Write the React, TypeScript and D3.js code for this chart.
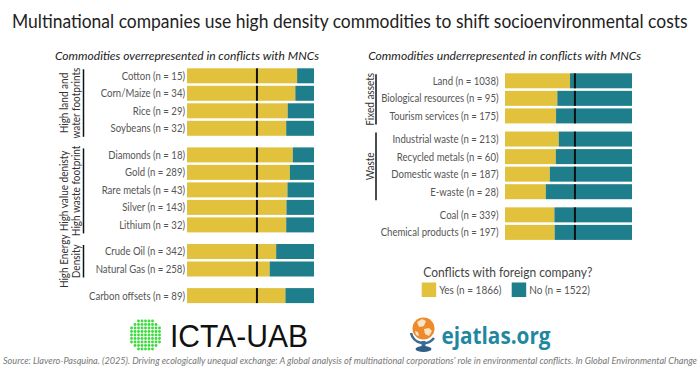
import React, { useEffect, useRef } from "react";
import * as d3 from "d3";

// commodities overrepresented in conflicts with MNCs
const overNames = ["Cotton", "Corn/Maize", "Rice", "Soybeans", "Diamonds", "Gold", "Rare metals", "Silver", "Lithium", "Crude Oil", "Natural Gas", "Carbon offsets"];
const overN = [15, 34, 29, 32, 18, 289, 43, 143, 32, 342, 258, 89];
const overYes = [0.867, 0.853, 0.793, 0.781, 0.833, 0.81, 0.791, 0.783, 0.781, 0.702, 0.651, 0.775];
const overGroup = [0, 0, 0, 0, 1, 1, 1, 1, 1, 2, 2, 3];
const overGroupLabels = [["High land and", "water footprints"], ["High value denisty", "High waste footprint"], ["High Energy", "Density"], []];

// commodities underrepresented in conflicts with MNCs
const underNames = ["Land", "Biological resources", "Tourism services", "Industrial waste", "Recycled metals", "Domestic waste", "E-waste", "Coal", "Chemical products"];
const underN = [1038, 95, 175, 213, 60, 187, 28, 339, 197];
const underYes = [0.512, 0.412, 0.402, 0.423, 0.4, 0.353, 0.321, 0.389, 0.391];
const underGroup = [0, 0, 0, 1, 1, 1, 1, 2, 2];
const underGroupLabels = [["Fixed assets"], ["Waste"], []];

// legend
const legendKeys = ["Yes", "No"];
const legendN = [1866, 1522];

const YES = "#e2c23c";
const NO = "#1f7e8c";
const FONT = "Lato, 'Open Sans', sans-serif";
const NARROW = 0.87; // reference font is narrower than Lato

// squeeze text horizontally to mimic a condensed face
function squeeze(sel: d3.Selection<SVGTextElement, any, any, any>, factor = NARROW) {
  sel.each(function () {
    const len = this.getComputedTextLength();
    d3.select(this).attr("textLength", len * factor).attr("lengthAdjust", "spacingAndGlyphs");
  });
}

interface PanelCfg {
  names: string[];
  n: number[];
  yes: number[];
  group: number[];
  groupLabels: string[][];
  x0: number;
  x1: number;
  top: number;
  step: number;
  barH: number;
  gap: number;
  labelX: number;
  bracketX: number;
  groupTextX: number[];
}

const App: React.FC = () => {
  const svgRef = useRef<SVGSVGElement | null>(null);

  useEffect(() => {
    const svg = d3.select(svgRef.current);
    svg.selectAll("*").remove();
    svg.append("rect").attr("width", 700).attr("height", 368).attr("fill", "#fff");

    const overall = legendN[0] / (legendN[0] + legendN[1]);

    // title, scaled to the reference width
    const titleG = svg.append("g");
    const title = titleG
      .append("text")
      .attr("font-family", FONT)
      .attr("font-size", 19.5)
      .attr("fill", "#222")
      .text("Multinational companies use high density commodities to shift socioenvironmental costs");
    const tw = (title.node() as SVGTextElement).getComputedTextLength();
    titleG.attr("transform", `translate(12,28) scale(${676 / tw},1)`);

    const drawPanel = (c: PanelCfg) => {
      const x = d3.scaleLinear().domain([0, 1]).range([c.x0, c.x1]);
      const yIdx = d3.scaleLinear().domain([0, 1]).range([c.top, c.top + c.step]);
      const rows = c.names.map((name, i) => ({
        name,
        n: c.n[i],
        yes: c.yes[i],
        g: c.group[i],
        y: yIdx(i) + c.group[i] * c.gap,
      }));
      const g = svg.append("g");

      const row = g.selectAll(".row").data(rows).enter().append("g");
      row
        .append("rect")
        .attr("x", x(0))
        .attr("y", (d) => d.y)
        .attr("width", (d) => x(d.yes) - x(0))
        .attr("height", c.barH)
        .attr("fill", YES);
      row
        .append("rect")
        .attr("x", (d) => x(d.yes))
        .attr("y", (d) => d.y)
        .attr("width", (d) => x(1) - x(d.yes))
        .attr("height", c.barH)
        .attr("fill", NO);
      row
        .append("line")
        .attr("x1", x(overall))
        .attr("x2", x(overall))
        .attr("y1", (d) => d.y)
        .attr("y2", (d) => d.y + c.barH)
        .attr("stroke", "#111")
        .attr("stroke-width", 2);
      const labels = row
        .append("text")
        .attr("x", c.labelX)
        .attr("y", (d) => d.y + c.barH / 2)
        .attr("dy", "0.36em")
        .attr("text-anchor", "end")
        .attr("font-family", FONT)
        .attr("font-size", 11)
        .attr("fill", "#555")
        .text((d) => `${d.name} (n = ${d.n})`);
      squeeze(labels as any);

      // group brackets and labels
      c.groupLabels.forEach((lines, gi) => {
        if (!lines.length) return;
        const members = rows.filter((r) => r.g === gi);
        const y1 = members[0].y + 1;
        const y2 = members[members.length - 1].y + c.barH + 1;
        g.append("line")
          .attr("x1", c.bracketX)
          .attr("x2", c.bracketX)
          .attr("y1", y1)
          .attr("y2", y2)
          .attr("stroke", "#111")
          .attr("stroke-width", 1.5);
        lines.forEach((t, li) => {
          const txt = g
            .append("text")
            .attr("transform", `translate(${c.groupTextX[li]},${(y1 + y2) / 2}) rotate(-90)`)
            .attr("dy", "0.35em")
            .attr("text-anchor", "middle")
            .attr("font-family", FONT)
            .attr("font-size", 11.5)
            .attr("fill", "#333")
            .text(t);
          squeeze(txt as any);
        });
      });
    };

    drawPanel({
      names: overNames, n: overN, yes: overYes, group: overGroup, groupLabels: overGroupLabels,
      x0: 187, x1: 314, top: 68.3, step: 17.5, barH: 15, gap: 9.1,
      labelX: 185, bracketX: 83.5, groupTextX: [64, 76],
    });
    drawPanel({
      names: underNames, n: underN, yes: underYes, group: underGroup, groupLabels: underGroupLabels,
      x0: 505, x1: 632, top: 73.3, step: 17.55, barH: 15, gap: 5.6,
      labelX: 498.5, bracketX: 376, groupTextX: [369.5],
    });

    // panel subtitles
    [
      { x: 187, w: 264, t: "Commodities overrepresented in conflicts with MNCs" },
      { x: 504.7, w: 273, t: "Commodities underrepresented in conflicts with MNCs" },
    ].forEach((s) =>
      svg
        .append("text")
        .attr("x", s.x)
        .attr("y", 60)
        .attr("text-anchor", "middle")
        .attr("font-family", FONT)
        .attr("font-style", "italic")
        .attr("font-size", 12)
        .attr("fill", "#222")
        .attr("textLength", s.w)
        .attr("lengthAdjust", "spacingAndGlyphs")
        .text(s.t)
    );

    // legend
    svg
      .append("text")
      .attr("x", 423.3)
      .attr("y", 277)
      .attr("font-family", FONT)
      .attr("font-size", 13)
      .attr("fill", "#444")
      .attr("textLength", 169)
      .attr("lengthAdjust", "spacingAndGlyphs")
      .text("Conflicts with foreign company?");
    const lx = d3.scaleOrdinal<string, number>().domain(legendKeys).range([421.7, 511.7]);
    const lc = d3.scaleOrdinal<string, string>().domain(legendKeys).range([YES, NO]);
    const leg = svg.append("g").selectAll("g").data(legendKeys).enter().append("g");
    leg
      .append("rect")
      .attr("x", (d) => lx(d))
      .attr("y", 282.5)
      .attr("width", 14.5)
      .attr("height", 14.5)
      .attr("fill", (d) => lc(d));
    const legText = leg
      .append("text")
      .attr("x", (d) => lx(d) + 17.5)
      .attr("y", 293.5)
      .attr("font-family", FONT)
      .attr("font-size", 11.5)
      .attr("fill", "#555")
      .text((d, i) => `${d} (n = ${legendN[i]})`);
    squeeze(legText as any);

    // ICTA-UAB logo: dotted green circle
    const logo = svg.append("g");
    const cx = 145.5, cy = 335, r = 17.5, sp = 3.5;
    for (let gx = -5; gx <= 5; gx++) {
      for (let gy = -5; gy <= 5; gy++) {
        const px = gx * sp, py = gy * sp;
        if (Math.hypot(px, py) <= r - 0.5) {
          logo.append("circle").attr("cx", cx + px).attr("cy", cy + py).attr("r", 1.45).attr("fill", "#3cdc3c");
        }
      }
    }
    logo
      .append("text")
      .attr("x", 170)
      .attr("y", 346.5)
      .attr("font-family", "'Liberation Sans', Arial, sans-serif")
      .attr("font-size", 31)
      .attr("textLength", 138)
      .attr("lengthAdjust", "spacingAndGlyphs")
      .attr("fill", "#111")
      .text("ICTA-UAB");

    // ejatlas logo: globe
    const gl = svg.append("g");
    gl.append("path")
      .attr("d", "M411,333 A13,13 0 0 0 434,338")
      .attr("fill", "none")
      .attr("stroke", "#3a6d96")
      .attr("stroke-width", 2.5);
    gl.append("rect").attr("x", 421.5).attr("y", 341).attr("width", 4).attr("height", 6).attr("fill", "#3a6d96");
    gl.append("ellipse").attr("cx", 423.5).attr("cy", 349).attr("rx", 8).attr("ry", 3).attr("fill", "#2f5f88");
    gl.append("circle").attr("cx", 423.5).attr("cy", 328.5).attr("r", 11).attr("fill", "#ec8a2c");
    gl.append("path")
      .attr("d", "M417,322 l5,-3 l4,2 l-2,5 l-5,1 z M424,329 l5,-1 l3,3 l-3,5 l-4,-2 z M415,331 l3,1 l1,4 l-3,-1 z")
      .attr("fill", "#fbe3c4");
    svg
      .append("text")
      .attr("x", 441.5)
      .attr("y", 343.5)
      .attr("font-family", "'Open Sans', sans-serif")
      .attr("font-weight", 700)
      .attr("font-size", 24)
      .attr("textLength", 109)
      .attr("lengthAdjust", "spacingAndGlyphs")
      .attr("fill", "#1f88a0")
      .text("ejatlas.org");

    // source
    svg
      .append("text")
      .attr("x", 3)
      .attr("y", 364)
      .attr("font-family", FONT)
      .attr("font-style", "italic")
      .attr("font-size", 9)
      .attr("textLength", 694)
      .attr("lengthAdjust", "spacingAndGlyphs")
      .attr("fill", "#777")
      .text(
        "Source: Llavero-Pasquina. (2025). Driving ecologically unequal exchange: A global analysis of multinational corporations\u2019 role in environmental conflicts. In Global Environmental Change"
      );
  }, []);

  return (
    <svg
      ref={svgRef}
      width={700}
      height={368}
      style={{ position: "absolute", left: 0, top: 0 }}
    />
  );
};

export default App;
